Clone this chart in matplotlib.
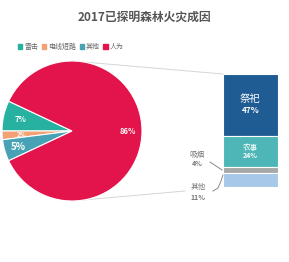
import numpy as np
import matplotlib
matplotlib.use("Agg")
import matplotlib.pyplot as plt
from matplotlib.patches import Patch

plt.rcParams['font.family'] = ['Noto Sans CJK SC', 'DejaVu Sans']

# data
title = "2017已探明森林火灾成因"
pie_labels = ["雷击", "电线短路", "其他", "人为"]
pie_values = [7, 2, 5, 86]
pie_colors = ["#27b1a1", "#f3a074", "#46a2b4", "#e3134c"]

bar_labels = ["祭祀", "农事", "吸烟", "其他"]
bar_values = [47, 24, 4, 11]
bar_colors = ["#1f5c93", "#4eb6b6", "#a8a8a8", "#a7c8e9"]

W, H = 289, 262
fig = plt.figure(figsize=(W / 100, H / 100), dpi=100)
ax = fig.add_axes([0, 0, 1, 1])

def Y(py):
    # image pixel row -> data y
    return H - py

# pie: centre and radius in pixels
cx, cy, R = 72, Y(131), 70
start = 180 - pie_values[0] * 3.6
wedges, _ = ax.pie(pie_values, colors=pie_colors, startangle=start,
                   center=(cx, cy), radius=R,
                   wedgeprops=dict(edgecolor="white", linewidth=0.8))

# percent labels on the pie
angles = np.cumsum([0] + pie_values) * 3.6 + start
pct_style = [(0.76, 5.5), (0.72, 4.5), (0.8, 7), (0.8, 5.5)]
for i, v in enumerate(pie_values):
    mid = np.deg2rad((angles[i] + angles[i + 1]) / 2)
    r, fs = pct_style[i]
    ax.text(cx + r * R * np.cos(mid), cy + r * R * np.sin(mid), f"{v}%",
            color="white", fontsize=fs, fontweight="bold",
            ha="center", va="center")

# stacked bar breaking down 人为
bar_top, bar_bot = Y(74), Y(187)
scale = (bar_top - bar_bot) / sum(bar_values)
bx, bw = 250.5, 55
bottom = bar_top
mids = []
for lab, v, c in zip(bar_labels, bar_values, bar_colors):
    h = v * scale
    bottom -= h
    ax.bar(bx, h, bottom=bottom, width=bw, color=c, edgecolor="white", linewidth=0.8)
    mids.append(bottom + h / 2)

ax.text(bx, mids[0] + 6, bar_labels[0], color="white", fontsize=7.5, ha="center", va="center")
ax.text(bx, mids[0] - 6, f"{bar_values[0]}%", color="white", fontsize=6, fontweight="bold",
        ha="center", va="center")
ax.text(bx, mids[1] + 4, bar_labels[1], color="white", fontsize=5.5, ha="center", va="center")
ax.text(bx, mids[1] - 4, f"{bar_values[1]}%", color="white", fontsize=5, fontweight="bold",
        ha="center", va="center")

# outside labels for small segments
ax.text(197, Y(155), bar_labels[2], color="#777777", fontsize=5.5, ha="center", va="center")
ax.text(197, Y(164), f"{bar_values[2]}%", color="#777777", fontsize=5, fontweight="bold",
        ha="center", va="center")
ax.plot([210, 216, 222], [Y(162), Y(166), Y(170)], color="#888888", lw=0.7)
ax.text(198, Y(187), bar_labels[3], color="#777777", fontsize=5.5, ha="center", va="center")
ax.text(198, Y(197), f"{bar_values[3]}%", color="#777777", fontsize=5, fontweight="bold",
        ha="center", va="center")
ax.plot([213, 218, 221, 223], [Y(191), Y(188), Y(181), Y(175)], color="#888888", lw=0.7)

# connector lines pie -> bar
ax.plot([cx, bx - bw / 2], [cy + R, bar_top], color="#d5d5d5", lw=0.7, zorder=0)
ax.plot([cx, 185], [cy - R, Y(191)], color="#d5d5d5", lw=0.7, zorder=0)

ax.set_xlim(0, W)
ax.set_ylim(0, H)
ax.set_aspect("auto")
ax.axis("off")

ax.text(144, Y(17), title, color="#555555", fontsize=8.5, fontweight="bold",
        ha="center", va="center")

handles = [Patch(color=c, label=l) for c, l in zip(pie_colors, pie_labels)]
fig.legend(handles=handles, loc="center left", bbox_to_anchor=(12 / W, 1 - 47 / H),
           ncol=4, frameon=False, fontsize=5, handlelength=0.6, handleheight=0.6,
           handletextpad=0.3, columnspacing=0.5, labelcolor="#666666")

fig.savefig("out.png", dpi=100, facecolor="white")
